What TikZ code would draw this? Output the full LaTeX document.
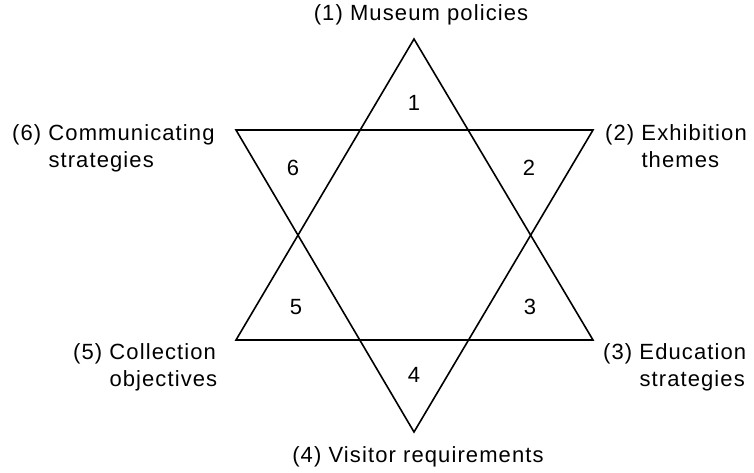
\documentclass[tikz,border=0pt]{standalone}
\usepackage{fontspec}
\setmainfont{Liberation Sans}[LetterSpace=5]
\begin{document}
\begin{tikzpicture}[x=1pt, y=-1pt, every node/.style={font=\fontsize{22}{27}\selectfont, inner sep=0pt}, edge/.style={black, line width=1.6pt, line join=miter}]
	\useasboundingbox (0,0) rectangle (754,472);
	% upward triangle
	\coordinate (up1) at (414,39);
	\coordinate (up3) at (593,340);
	\coordinate (up5) at (236,340);
	% downward triangle
	\coordinate (dn4) at (414,432);
	\coordinate (dn2) at (593,130);
	\coordinate (dn6) at (236,130);
	\draw[edge] (up1) -- (up3) -- (up5) -- cycle;
	\draw[edge] (dn4) -- (dn2) -- (dn6) -- cycle;
	% point numbers
	\node (n1) at (414,103) {1};
	\node (n2) at (529,168) {2};
	\node (n3) at (530,307) {3};
	\node (n4) at (414,375) {4};
	\node (n5) at (296,307) {5};
	\node (n6) at (293,168) {6};
	% labels
	\node (policies) at (421,15) {(1) Museum policies};
	\node[align=left, anchor=west] (themes) at (605,148) {(2) Exhibition\\\phantom{(2) }themes};
	\node[align=left, anchor=west] (education) at (603,367) {(3) Education\\\phantom{(3) }strategies};
	\node (visitor) at (418,457) {(4) Visitor requirements};
	\node[align=left, anchor=west] (collection) at (73,367) {(5) Collection\\\phantom{(5) }objectives};
	\node[align=left, anchor=west] (communicating) at (12,148) {(6) Communicating\\\phantom{(6) }strategies};
\end{tikzpicture}
\end{document}
